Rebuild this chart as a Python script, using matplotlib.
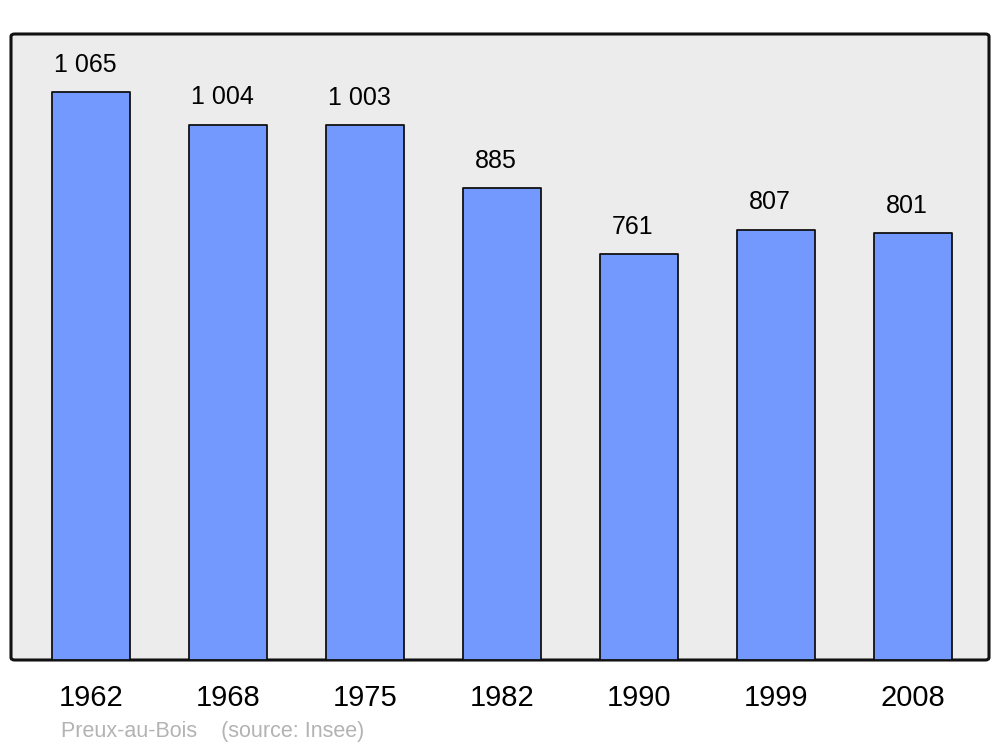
import matplotlib
matplotlib.use('Agg')
import matplotlib.pyplot as plt
from matplotlib.patches import FancyBboxPatch

years = ['1962', '1968', '1975', '1982', '1990', '1999', '2008']
population = [1065, 1004, 1003, 885, 761, 807, 801]
labels = ['1 065', '1 004', '1 003', '885', '761', '807', '801']

plt.rcParams['font.family'] = ['Liberation Sans', 'DejaVu Sans']

fig = plt.figure(figsize=(10, 7.47), dpi=100)
ax = fig.add_axes([11/1000, 1 - 660/747, 978/1000, 626/747])
ax.set_facecolor('none')

# rounded grey frame
frame = FancyBboxPatch((0, 0), 1, 1, boxstyle='round,pad=0,rounding_size=0.004',
                       transform=ax.transAxes, facecolor='#ececec',
                       edgecolor='#111111', linewidth=2.2, zorder=0, clip_on=False)
ax.add_patch(frame)

x = list(range(len(years)))
ax.bar(x, population, width=0.575, color='#7399ff', edgecolor='#111111',
       linewidth=1.3, zorder=2, joinstyle='round')

for xi, v, lab in zip(x, population, labels):
    ax.annotate(lab, (xi, v), xytext=(-4.3, 11), textcoords='offset points',
                ha='center', va='bottom', fontsize=18)

ax.set_xlim(-0.584, 6.555)
ax.set_ylim(0, 1174)
ax.set_xticks(x)
ax.set_xticklabels(years, fontsize=21)
ax.tick_params(axis='x', length=0, pad=17)
ax.set_yticks([])
for s in ax.spines.values():
    s.set_visible(False)

fig.text(61/1000, 1 - 731/747, 'Preux-au-Bois    (source: Insee)',
         fontsize=15.5, color='#b3b3b3', ha='left', va='center')

fig.savefig('out.png', dpi=100)
